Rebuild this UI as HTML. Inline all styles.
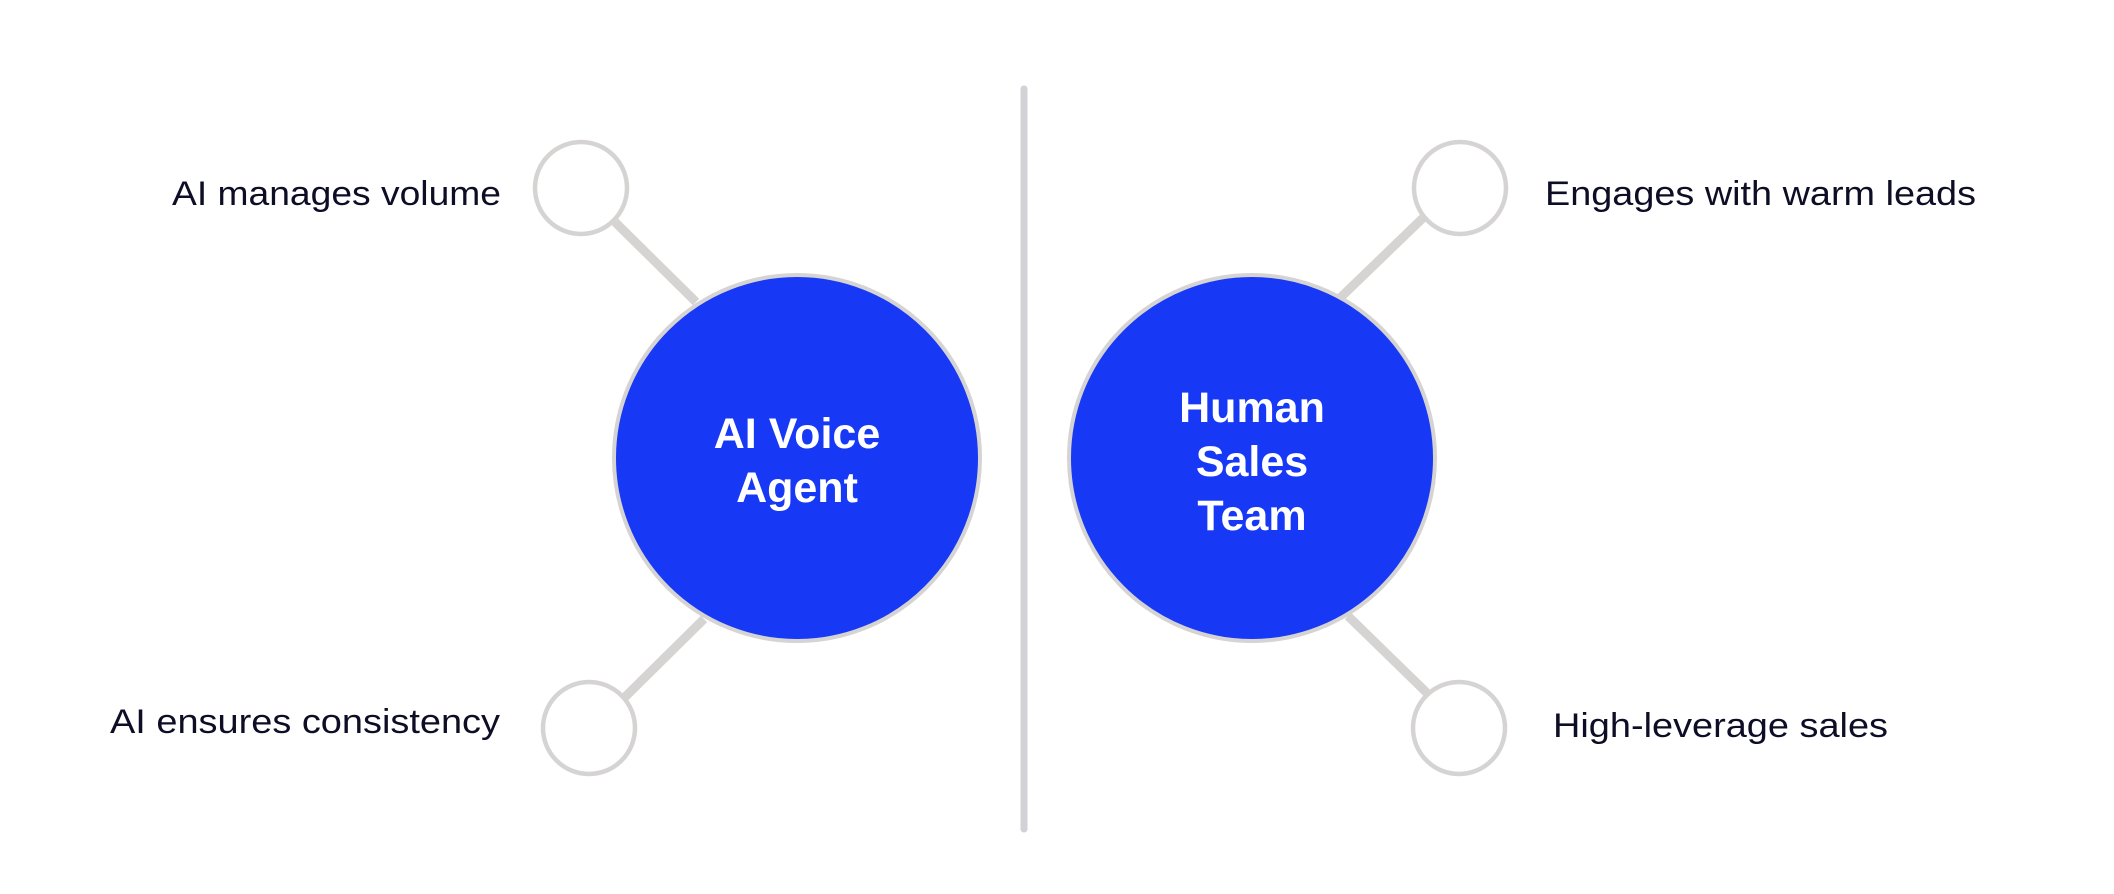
<!DOCTYPE html>
<html><head><meta charset="utf-8"><style>html,body{margin:0;padding:0;background:#fff}svg{display:block}</style></head>
<body>
<svg width="2114" height="894" viewBox="0 0 2114 894" xmlns="http://www.w3.org/2000/svg">
<rect width="2114" height="894" fill="#fff"/>
<line x1="1024" y1="89" x2="1024" y2="829" stroke="#d2d1d6" stroke-width="7" stroke-linecap="round"/>
<g stroke="#d6d3d3" stroke-width="9">
<line x1="615" y1="222" x2="696" y2="302"/>
<line x1="625" y1="697" x2="704" y2="619"/>
<line x1="1425" y1="216" x2="1339" y2="299"/>
<line x1="1348" y1="616" x2="1428" y2="694"/>
</g>
<g fill="#fff" stroke="#d6d3d3" stroke-width="4.5">
<circle cx="581" cy="188" r="46"/>
<circle cx="589" cy="728" r="46"/>
<circle cx="1460" cy="188" r="46"/>
<circle cx="1459" cy="728" r="46"/>
</g>
<g fill="#1738f5" stroke="#d6d3d3" stroke-width="4">
<circle cx="797" cy="458" r="183"/>
<circle cx="1252" cy="458" r="183"/>
</g>
<g font-family="Liberation Sans, sans-serif" font-size="34" fill="#0d0d26">
<text x="172" y="205" textLength="329" lengthAdjust="spacingAndGlyphs">AI manages volume</text>
<text x="110" y="733" textLength="390" lengthAdjust="spacingAndGlyphs">AI ensures consistency</text>
<text x="1545" y="205" textLength="431" lengthAdjust="spacingAndGlyphs">Engages with warm leads</text>
<text x="1553" y="737" textLength="335" lengthAdjust="spacingAndGlyphs">High-leverage sales</text>
</g>
<g font-family="Liberation Sans, sans-serif" font-size="43" font-weight="bold" fill="#fff" text-anchor="middle">
<text x="797" y="448">AI Voice</text>
<text x="797" y="502">Agent</text>
<text x="1252" y="422">Human</text>
<text x="1252" y="476">Sales</text>
<text x="1252" y="530">Team</text>
</g>
</svg>
</body></html>
